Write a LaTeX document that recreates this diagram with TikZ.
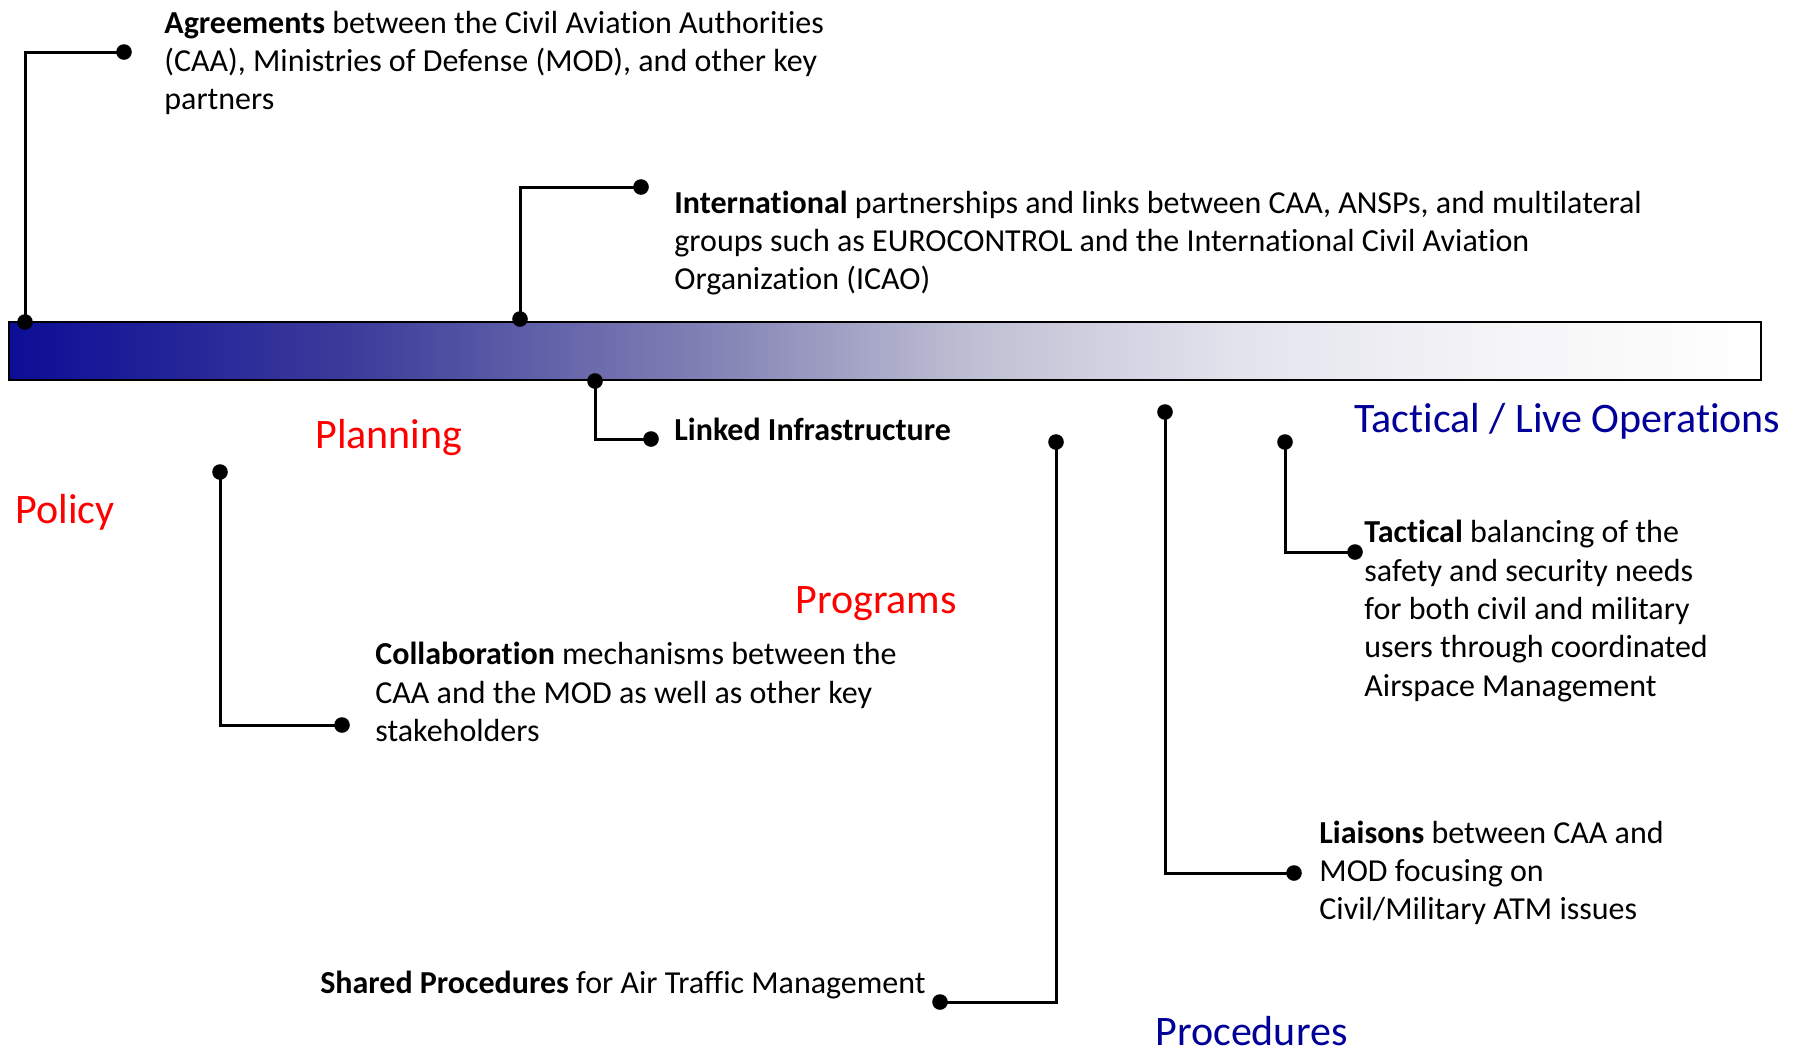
\documentclass[tikz,border=0pt]{standalone}
\usepackage{fontspec}
\setmainfont{Carlito}[Ligatures=NoCommon]
\usetikzlibrary{positioning}

\definecolor{phasered}{RGB}{255,0,0}
\definecolor{opsblue}{RGB}{0,0,153}
\pgfdeclarehorizontalshading{barshade}{100bp}{rgb(0bp)=(0.05,0.05,0.59); rgb(25bp)=(0.05,0.05,0.59); rgb(35bp)=(0.24,0.24,0.61); rgb(45bp)=(0.51,0.51,0.71); rgb(52.5bp)=(0.75,0.75,0.83); rgb(60bp)=(0.89,0.89,0.93); rgb(67.5bp)=(0.96,0.96,0.97); rgb(75bp)=(1,1,1); rgb(100bp)=(1,1,1)}

\begin{document}
\begin{tikzpicture}[
    x=0.5pt, y=-0.5pt,
    timeline/.style={draw, line width=1.3pt, shading=barshade, minimum width=876pt, minimum height=29pt, inner sep=0pt},
    dot/.style={circle, fill=black, inner sep=0pt, minimum size=7.8pt},
    link/.style={line width=1.5pt},
    note/.style={anchor=west, align=left, inner sep=0pt, font=\fontsize{16}{19.15}\selectfont},
    phase/.style={anchor=west, inner sep=0pt, font=\fontsize{21}{25}\selectfont, text=phasered},
    level/.style={phase, text=opsblue}
]
\useasboundingbox (0,0) rectangle (1804,1051);

% Timeline bar
\node[timeline] (bar) at (885,351) {};

% Phase labels
\node[phase] (policy) at (15,512) {Policy};
\node[phase] (planning) at (315,438) {Planning};
\node[phase] (programs) at (795,604) {Programs};
\node[level] (tactical) at (1354,421) {Tactical / Live Operations};
\node[level] (procedures) at (1155,1031) {Procedures};

% Dots
\node[dot] (agrBar) at (25,322) {};
\node[dot] (agrEnd) at (124,52) {};
\node[dot] (intBar) at (520,319) {};
\node[dot] (intEnd) at (641,187) {};
\node[dot] (linkBar) at (595,381) {};
\node[dot] (linkEnd) at (651,439) {};
\node[dot] (colTop) at (220,472) {};
\node[dot] (colEnd) at (342,725) {};
\node[dot] (shrTop) at (1056,442) {};
\node[dot] (shrEnd) at (940,1002) {};
\node[dot] (liaTop) at (1165,412) {};
\node[dot] (liaEnd) at (1294,873) {};
\node[dot] (tacTop) at (1285,442) {};
\node[dot] (tacEnd) at (1355,552) {};

% Notes
\node[note] (agreements) at (164,63) {\textbf{Agreements} between the Civil Aviation Authorities\\(CAA), Ministries of Defense (MOD), and other key\\partners};
\node[note] (international) at (674,243) {\textbf{International} partnerships and links between CAA, ANSPs, and multilateral\\groups such as EUROCONTROL and the International Civil Aviation\\Organization (ICAO)};
\node[note] (linked) at (674,429) {\textbf{Linked Infrastructure}};
\node[note] (collab) at (375,692) {\textbf{Collaboration} mechanisms between the\\CAA and the MOD as well as other key\\stakeholders};
\node[note, anchor=east] (shared) at (926,985) {\textbf{Shared Procedures} for Air Traffic Management};
\node[note] (liaisons) at (1319,873) {\textbf{Liaisons} between CAA and\\MOD focusing on\\Civil/Military ATM issues};
\node[note] (balancing) at (1364,611) {\textbf{Tactical} balancing of the\\safety and security needs\\for both civil and military\\users through coordinated\\Airspace Management};

% Connectors
\draw[link] (agrBar.center) |- (agrEnd.center);
\draw[link] (intBar.center) |- (intEnd.center);
\draw[link] (linkBar.center) |- (linkEnd.center);
\draw[link] (colTop.center) |- (colEnd.center);
\draw[link] (shrTop.center) |- (shrEnd.center);
\draw[link] (liaTop.center) |- (liaEnd.center);
\draw[link] (tacTop.center) |- (tacEnd.center);

\end{tikzpicture}
\end{document}
